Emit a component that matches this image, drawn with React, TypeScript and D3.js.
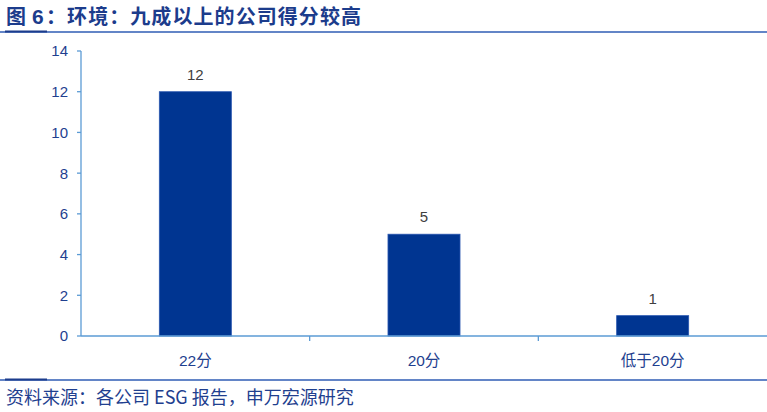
import React from "react";
import * as d3 from "d3";

const categories = ["22分", "20分", "低于20分"];
const values = [12, 5, 1];
const yTicks = [0, 2, 4, 6, 8, 10, 12, 14];
const titlePrefix = "图";
const titleNum = "6";
const titleRest = "：环境：九成以上的公司得分较高";
const source = "资料来源：各公司 ESG 报告，申万宏源研究";

const W = 767;
const H = 412;
const left = 81;
const right = 767;
const top = 51;
const bottom = 336;

export default function App() {
  const x = d3.scaleBand<string>().domain(categories).range([left, right]).paddingInner(0.685).paddingOuter(0.3425);
  const xb = d3.scaleBand<string>().domain(categories).range([left, right]);
  const y = d3.scaleLinear().domain([0, 14]).range([bottom, top]);
  const dark = "#1F3F8F";
  const axis = "#5B9BD5";
  const font = "Arial, 'Liberation Sans', 'Noto Sans CJK SC', sans-serif";
  const cjk = "'Noto Sans CJK SC', sans-serif";
  return (
    <svg width={W} height={H} style={{ position: "absolute", left: 0, top: 0, background: "#fff" }} fontFamily={font}>
      <g fontSize={20} fontWeight="bold" fill="#1C3C8C" fontFamily={cjk}>
        <text x={6} y={24}>{titlePrefix}</text>
        <text x={32} y={24} fontFamily={font} fontSize={21}>{titleNum}</text>
        <text x={46} y={24} textLength={315} lengthAdjust="spacing">{titleRest}</text>
      </g>
      <line x1={0} x2={W} y1={32} y2={32} stroke="#2F5CB4" strokeWidth={1.3} />
      <line x1={5} x2={47} y1={31.5} y2={31.5} stroke="#1C3C8C" strokeWidth={2} />
      {/* y axis */}
      <line x1={left} x2={left} y1={top} y2={bottom} stroke={axis} strokeWidth={1.3} />
      {yTicks.map((t) => (
        <g key={t}>
          <line x1={left - 4} x2={left} y1={y(t)} y2={y(t)} stroke={axis} strokeWidth={1.3} />
          <text x={68} y={y(t)} dy="0.36em" textAnchor="end" fontSize={15} fill={dark}>{t}</text>
        </g>
      ))}
      {/* bars */}
      {categories.map((c, i) => (
        <g key={c}>
          <rect x={x(c)} y={y(values[i])} width={x.bandwidth()} height={bottom - y(values[i])} fill="#003591" stroke="#2A57B0" strokeWidth={0.8} />
          <text x={x(c)! + x.bandwidth() / 2} y={y(values[i]) - 12} textAnchor="middle" fontSize={15} fill="#404040">{values[i]}</text>
          <text x={x(c)! + x.bandwidth() / 2} y={360} dy="0.36em" textAnchor="middle" fontSize={15.5} fill={dark}>{c}</text>
        </g>
      ))}
      {/* x axis */}
      <line x1={left} x2={right} y1={bottom} y2={bottom} stroke={axis} strokeWidth={1.3} />
      {categories.slice(1).map((c) => (
        <line key={c} x1={xb(c)} x2={xb(c)} y1={bottom} y2={bottom + 5} stroke={axis} strokeWidth={1.3} />
      ))}
      <line x1={0} x2={W} y1={380} y2={380} stroke="#2F5CB4" strokeWidth={1.3} />
      <line x1={5} x2={47} y1={379.5} y2={379.5} stroke="#1C3C8C" strokeWidth={2} />
      <text x={6} y={398} dy="0.36em" fontSize={18} fill={dark} fontFamily={cjk}>{source}</text>
    </svg>
  );
}
